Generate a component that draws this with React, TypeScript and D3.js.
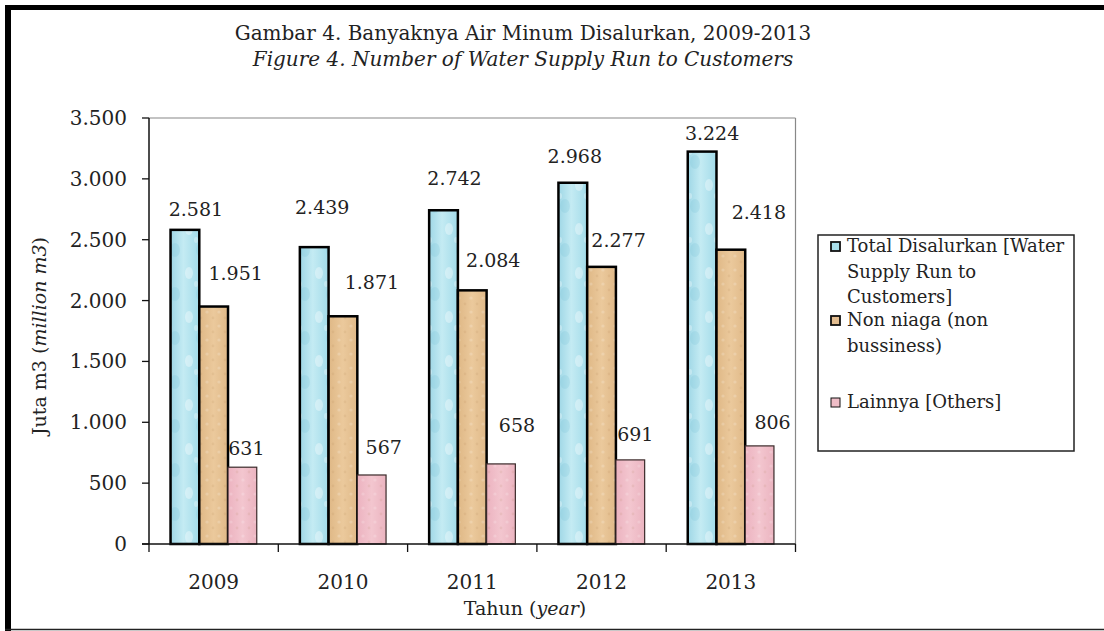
import React from "react";
import * as d3 from "d3";

const years = ["2009", "2010", "2011", "2012", "2013"];
const seriesKeys = ["total", "nonNiaga", "lainnya"];
const totalValues = [2581, 2439, 2742, 2968, 3224];
const nonNiagaValues = [1951, 1871, 2084, 2277, 2418];
const lainnyaValues = [631, 567, 658, 691, 806];
const yTicks = [0, 500, 1000, 1500, 2000, 2500, 3000, 3500];
const legendLines = [
  ["Total Disalurkan [Water", "Supply Run to", "Customers]"],
  ["Non niaga (non", "bussiness)"],
  ["Lainnya [Others]"],
];
// manual label placement (dx from bar centre, gap from bar top to baseline)
const labelDx = [
  [11, 8, 11, 2, 10],
  [22, 29, 21, 17, 28],
  [4, 12, 16, 5, 13],
];
const labelGap = [
  [14, 33, 25, 20, 12],
  [27, 27, 23, 20, 31],
  [12, 21, 32, 19, 17],
];

const W = 1104;
const H = 631;
const plot = { left: 149, right: 795.5, top: 118, bottom: 544 };
const FONT = "'DejaVu Serif', serif";

const fmt = d3.formatLocale({
  decimal: ",",
  thousands: ".",
  grouping: [3],
  currency: ["", ""],
}).format(",");

export default function App() {
  const seriesValues = [totalValues, nonNiagaValues, lainnyaValues];
  const x0 = d3.scaleBand<string>().domain(years).range([plot.left, plot.right]).padding(0);
  const x1 = d3
    .scaleBand<string>()
    .domain(seriesKeys)
    .range([0, x0.bandwidth()])
    .paddingInner(0)
    .paddingOuter(0.75);
  const y = d3.scaleLinear().domain([0, 3500]).range([plot.bottom, plot.top]);

  const fills = ["url(#blueTex)", "url(#tanTex)", "url(#pinkTex)"];
  const overlays = ["url(#drops)", "url(#speck)", "url(#speck)"];
  const strokes = ["#000", "#000", "#3a2a2a"];
  const strokeW = [2.5, 2.5, 1.2];
  const legendFill = ["#a9dfeb", "#e3bd90", "#efbdc7"];
  const legendY = [252, 326, 408];

  return (
    <svg
      width={W}
      height={H}
      style={{ position: "absolute", left: 0, top: 0, background: "#fff" }}
      fontFamily={FONT}
    >
      <defs>
        <linearGradient id="blueTex" x1="0" x2="1" y1="0" y2="0">
          <stop offset="0" stopColor="#9fd7e6" />
          <stop offset="0.45" stopColor="#c4ebf3" />
          <stop offset="1" stopColor="#a2dbe9" />
        </linearGradient>
        <linearGradient id="tanTex" x1="0" x2="1" y1="0" y2="0">
          <stop offset="0" stopColor="#dfb886" />
          <stop offset="0.5" stopColor="#ebc99c" />
          <stop offset="1" stopColor="#e0b988" />
        </linearGradient>
        <linearGradient id="pinkTex" x1="0" x2="1" y1="0" y2="0">
          <stop offset="0" stopColor="#ecb3c0" />
          <stop offset="0.5" stopColor="#f3c6cf" />
          <stop offset="1" stopColor="#ebb4c0" />
        </linearGradient>
        <pattern id="drops" width="26" height="44" patternUnits="userSpaceOnUse">
          <ellipse cx="7" cy="9" rx="4" ry="6" fill="#ffffff" opacity="0.35" />
          <ellipse cx="19" cy="30" rx="5" ry="7" fill="#7cc3d6" opacity="0.25" />
          <ellipse cx="14" cy="20" rx="2" ry="3" fill="#ffffff" opacity="0.3" />
        </pattern>
        <pattern id="speck" width="12" height="14" patternUnits="userSpaceOnUse">
          <circle cx="3" cy="4" r="1.6" fill="#ffffff" opacity="0.18" />
          <circle cx="9" cy="10" r="1.4" fill="#a07040" opacity="0.1" />
        </pattern>
      </defs>

      {/* frame */}
      <rect x={5} y={5} width={W - 5} height={5} fill="#000" />
      <rect x={5} y={5} width={6} height={H - 5} fill="#000" />
      <line x1={5} x2={W} y1={629.5} y2={629.5} stroke="#222" strokeWidth={1.5} />

      {/* title */}
      <text x={523} y={40} textAnchor="middle" fontSize={20} fill="#222">
        Gambar 4. Banyaknya Air Minum Disalurkan, 2009-2013
      </text>
      <text x={523} y={66} textAnchor="middle" fontSize={20} fontStyle="italic" fill="#222">
        Figure 4. Number of Water Supply Run to Customers
      </text>

      {/* plot border */}
      <line x1={plot.left} x2={plot.right} y1={plot.top} y2={plot.top} stroke="#888" strokeWidth={1.2} />
      <line x1={plot.right} x2={plot.right} y1={plot.top} y2={plot.bottom} stroke="#888" strokeWidth={1.2} />

      {/* bars */}
      {seriesKeys.map((k, si) =>
        years.map((yr, i) => {
          const v = seriesValues[si][i];
          const bx = (x0(yr) as number) + (x1(k) as number);
          const bw = x1.bandwidth();
          return (
            <g key={k + yr}>
              <rect x={bx} y={y(v)} width={bw} height={plot.bottom - y(v)} fill={fills[si]} />
              <rect x={bx} y={y(v)} width={bw} height={plot.bottom - y(v)} fill={overlays[si]} />
              <rect
                x={bx}
                y={y(v)}
                width={bw}
                height={plot.bottom - y(v)}
                fill="none"
                stroke={strokes[si]}
                strokeWidth={strokeW[si]}
              />
            </g>
          );
        })
      )}

      {/* value labels */}
      {seriesKeys.map((k, si) =>
        years.map((yr, i) => {
          const v = seriesValues[si][i];
          const cx = (x0(yr) as number) + (x1(k) as number) + x1.bandwidth() / 2;
          return (
            <text
              key={"l" + k + yr}
              x={cx + labelDx[si][i]}
              y={y(v) - labelGap[si][i]}
              textAnchor="middle"
              fontSize={19}
              fill="#222"
            >
              {fmt(v)}
            </text>
          );
        })
      )}

      {/* y axis */}
      <line x1={plot.left} x2={plot.left} y1={plot.top} y2={plot.bottom} stroke="#111" strokeWidth={1.5} />
      {yTicks.map((t) => (
        <g key={"yt" + t}>
          <line x1={plot.left - 7} x2={plot.left} y1={y(t)} y2={y(t)} stroke="#111" strokeWidth={1.3} />
          <text x={127} y={y(t) + 7} textAnchor="end" fontSize={20} fill="#222">
            {fmt(t)}
          </text>
        </g>
      ))}

      {/* x axis */}
      <line x1={plot.left - 7} x2={plot.right} y1={plot.bottom} y2={plot.bottom} stroke="#111" strokeWidth={1.5} />
      {years.map((yr) => (
        <g key={"xt" + yr}>
          <line
            x1={x0(yr) as number}
            x2={x0(yr) as number}
            y1={plot.bottom}
            y2={plot.bottom + 8}
            stroke="#111"
            strokeWidth={1.3}
          />
          <text
            x={(x0(yr) as number) + x0.bandwidth() / 2}
            y={589}
            textAnchor="middle"
            fontSize={20}
            fill="#222"
          >
            {yr}
          </text>
        </g>
      ))}
      <line x1={plot.right} x2={plot.right} y1={plot.bottom} y2={plot.bottom + 8} stroke="#111" strokeWidth={1.3} />

      {/* axis titles */}
      <text x={525} y={615} textAnchor="middle" fontSize={19} fill="#222">
        Tahun (<tspan fontStyle="italic">year</tspan>)
      </text>
      <text transform="translate(46,336) rotate(-90)" textAnchor="middle" fontSize={19} fill="#222">
        Juta m3 (<tspan fontStyle="italic">million m3</tspan>)
      </text>

      {/* legend */}
      <rect x={818} y={235} width={256} height={216} fill="#fff" stroke="#222" strokeWidth={1.5} />
      {legendLines.map((lines, li) => (
        <g key={"lg" + li}>
          <rect
            x={831}
            y={legendY[li] - 10}
            width={9}
            height={9}
            fill={legendFill[li]}
            stroke="#111"
            strokeWidth={li === 2 ? 1 : 1.8}
          />
          {lines.map((ln, j) => (
            <text key={j} x={847} y={legendY[li] + j * 25.5} fontSize={18} fill="#222">
              {ln}
            </text>
          ))}
        </g>
      ))}
    </svg>
  );
}
